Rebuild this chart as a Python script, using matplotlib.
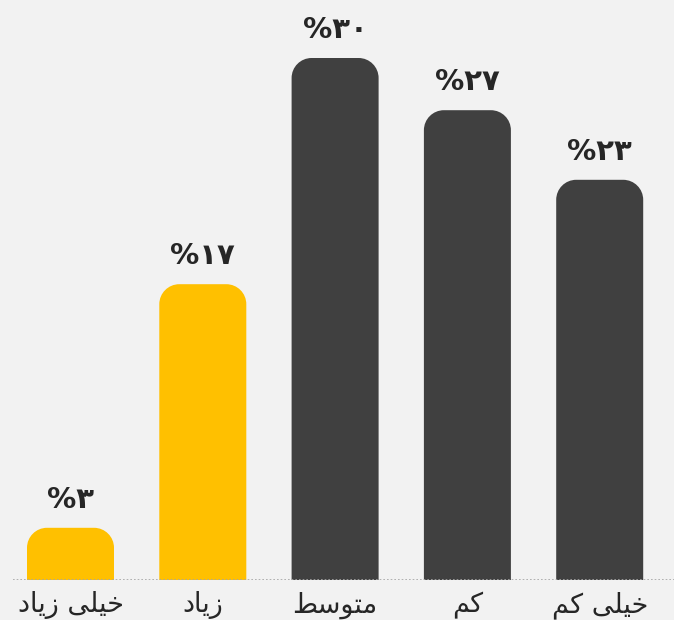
import matplotlib
matplotlib.use('Agg')
import matplotlib.pyplot as plt
from matplotlib.path import Path
from matplotlib.patches import PathPatch

# Survey answers, highest to lowest level (left to right on the chart)
categories = ['خیلی زیاد', 'زیاد', 'متوسط', 'کم', 'خیلی کم']
values = [3, 17, 30, 27, 23]
value_labels = ['%۳', '%۱۷', '%۳۰', '%۲۷', '%۲۳']

# matplotlib has no Arabic shaping, so the tick labels use presentation forms
# written in visual (left-to-right) order
tick_labels = [
    '\uFEA9\uFE8E\uFEF3\uFEAF \uFEF0\uFEE0\uFEF4\uFEA7',
    '\uFEA9\uFE8E\uFEF3\uFEAF',
    '\uFEC2\uFEB3\uFEEE\uFE98\uFEE3',
    '\uFEE2\uFEDB',
    '\uFEE2\uFEDB \uFEF0\uFEE0\uFEF4\uFEA7',
]

YELLOW = '#FFC000'
DARK = '#404040'
BG = '#F2F2F2'
bar_colors = [YELLOW, YELLOW, DARK, DARK, DARK]

W, H, DPI = 674, 620, 100
px_per_x = 132.3          # pixels between bar centres
first_center = 70.5       # pixel x of first bar centre
baseline_px = 40          # pixels from bottom of figure
px_per_y = 17.4           # pixels per percentage point


def rounded_top(x0, x1, y1, rx, ry):
    # bar path with rounded top corners, bottom at 0
    k = 0.5523
    verts = [
        (x0, 0), (x0, y1 - ry),
        (x0, y1 - ry + k * ry), (x0 + rx - k * rx, y1), (x0 + rx, y1),
        (x1 - rx, y1),
        (x1 - rx + k * rx, y1), (x1, y1 - ry + k * ry), (x1, y1 - ry),
        (x1, 0), (x0, 0),
    ]
    codes = [Path.MOVETO, Path.LINETO,
             Path.CURVE4, Path.CURVE4, Path.CURVE4,
             Path.LINETO,
             Path.CURVE4, Path.CURVE4, Path.CURVE4,
             Path.LINETO, Path.CLOSEPOLY]
    return Path(verts, codes)


fig = plt.figure(figsize=(W / DPI, H / DPI), dpi=DPI, facecolor=BG)
ax = fig.add_axes([0, baseline_px / H, 1, 1 - baseline_px / H])
ax.set_facecolor(BG)

x = list(range(len(values)))
ax.set_xlim(-first_center / px_per_x, (W - first_center) / px_per_x)
ax.set_ylim(0, (H - baseline_px) / px_per_y)

bars = ax.bar(x, values, width=87 / px_per_x, color=bar_colors)
radius = 20
for b in bars:
    bx, bw, bh = b.get_x(), b.get_width(), b.get_height()
    b.set_visible(False)
    ax.add_patch(PathPatch(rounded_top(bx, bx + bw, bh, radius / px_per_x, radius / px_per_y),
                           facecolor=b.get_facecolor(), edgecolor='none', zorder=2))

# value labels above each bar
for xi, v, lab in zip(x, values, value_labels):
    ax.text(xi, v + 0.8, lab, ha='center', va='bottom', fontsize=21,
            fontweight='bold', color='#262626', family='DejaVu Sans')

# dotted baseline
ax.axhline(0, xmin=13 / W, xmax=1, color='#A6A6A6', linestyle=(0, (1, 1.2)),
           linewidth=1.2, zorder=3)

# category labels under the baseline
for xi, lab in zip(x, tick_labels):
    ax.text(xi, -25 / px_per_y, lab, ha='center', va='center', fontsize=19.5,
            color='#262626', family='DejaVu Sans', clip_on=False)

ax.axis('off')
fig.savefig('out.png', dpi=DPI, facecolor=BG)
